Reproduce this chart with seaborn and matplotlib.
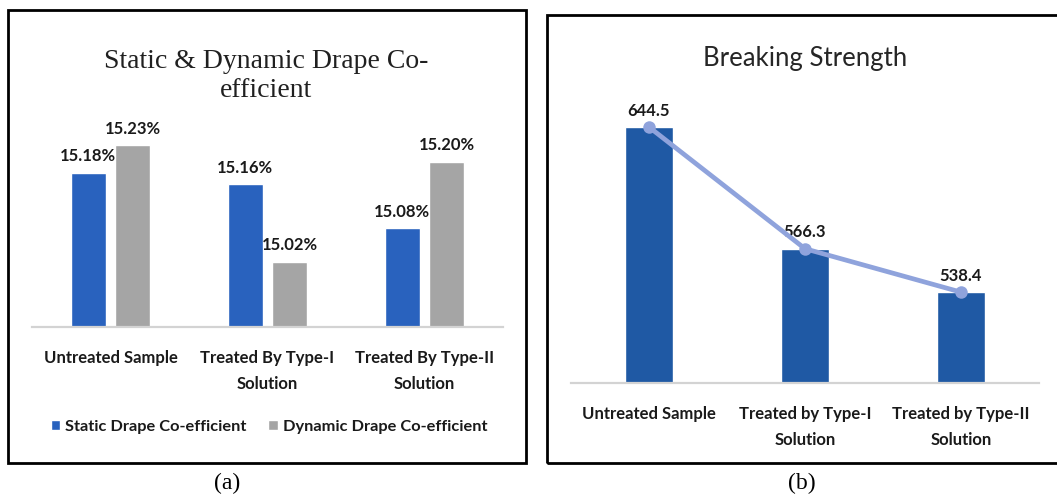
import numpy as np
import pandas as pd
import matplotlib
matplotlib.use("Agg")
import matplotlib.pyplot as plt
from matplotlib.patches import Rectangle
import seaborn as sns

# ---- data -------------------------------------------------------------
categories_a = ["Untreated Sample", "Treated By Type-I\nSolution", "Treated By Type-II\nSolution"]
series_a = ["Static Drape Co-efficient", "Dynamic Drape Co-efficient"]
static_drape = [15.18, 15.16, 15.08]
dynamic_drape = [15.23, 15.02, 15.20]

categories_b = ["Untreated Sample", "Treated by Type-I\nSolution", "Treated by Type-II\nSolution"]
breaking_strength = [644.5, 566.3, 538.4]

title_a = ["Static & Dynamic Drape Co-", "efficient"]
title_b = "Breaking Strength"

# ---- style ------------------------------------------------------------
sns.set_theme(style="white")
SANS = ["Lato", "DejaVu Sans"]
SERIF = ["Liberation Serif", "DejaVu Serif"]
plt.rcParams["font.family"] = SANS

BLUE_A = "#2962BE"
GRAY_A = "#A5A5A5"
BLUE_B = "#1F59A4"
LINE_B = "#8FA3DC"
TEXT = "#1a1a1a"
LABEL_SIZE = 12

W, H = 1057, 500
fig = plt.figure(figsize=(W / 100, H / 100), dpi=100)


def px_rect(left, top, right, bottom):
    """Axes rectangle from pixel edges (origin at top-left)."""
    return [left / W, 1 - bottom / H, (right - left) / W, (bottom - top) / H]


def style_axes(ax, fontsize):
    for side in ("left", "top", "right"):
        ax.spines[side].set_visible(False)
    ax.spines["bottom"].set_color("#D3D3D3")
    ax.spines["bottom"].set_linewidth(1.6)
    ax.set_yticks([])
    ax.set_xlabel("")
    ax.set_ylabel("")
    ax.tick_params(axis="x", length=0, pad=16.5, labelsize=fontsize, labelcolor=TEXT)
    for lab in ax.get_xticklabels():
        lab.set_fontweight("bold")
        lab.set_linespacing(1.75)


# ---- panel (a): grouped bars -------------------------------------------
df_a = pd.DataFrame({
    "category": categories_a * 2,
    "series": [series_a[0]] * 3 + [series_a[1]] * 3,
    "value": static_drape + dynamic_drape,
})

ax_a = fig.add_axes(px_rect(32, 110, 503, 327))
sns.barplot(data=df_a, x="category", y="value", hue="series",
            palette=[BLUE_A, GRAY_A], saturation=1, width=0.57, gap=0.22,
            ax=ax_a)
ax_a.set_ylim(14.903, 14.903 + 217 / 557)
ax_a.set_xlim(-0.5, 2.5)
for cont in ax_a.containers:
    ax_a.bar_label(cont, fmt="%.2f%%", padding=6, fontsize=LABEL_SIZE,
                   fontweight="bold", color=TEXT)
style_axes(ax_a, LABEL_SIZE)

handles, labels = ax_a.get_legend_handles_labels()
ax_a.legend(handles, labels, loc="center", ncol=2, frameon=False,
            bbox_to_anchor=(269 / W, 1 - 427 / H), bbox_transform=fig.transFigure,
            prop={"family": SANS, "weight": "bold", "size": 11.8},
            handlelength=0.6, handleheight=0.6, handletextpad=0.3,
            columnspacing=1.3, labelcolor=TEXT)

fig.text(266 / W, 1 - 68 / H, title_a[0], ha="center", va="baseline",
         family=SERIF, fontsize=20, color="#202020")
fig.text(266 / W, 1 - 97 / H, title_a[1], ha="center", va="baseline",
         family=SERIF, fontsize=20, color="#202020")

# ---- panel (b): bars with trend line -----------------------------------
ax_b = fig.add_axes(px_rect(571, 100, 1039, 383))
sns.barplot(x=categories_b, y=breaking_strength, color=BLUE_B, saturation=1,
            width=0.314, ax=ax_b)
ax_b.bar_label(ax_b.containers[0], fmt="%.1f", padding=6, fontsize=LABEL_SIZE,
               fontweight="bold", color=TEXT)
sns.lineplot(x=np.arange(len(categories_b)), y=breaking_strength, ax=ax_b,
             color=LINE_B, linewidth=3.4, marker="o", markersize=9,
             markeredgewidth=0, zorder=5)
ax_b.set_ylim(480, 480 + 283 / 1.556)
ax_b.set_xlim(-0.5, 2.5)
style_axes(ax_b, LABEL_SIZE)

fig.text(805 / W, 1 - 66 / H, title_b, ha="center", va="baseline",
         fontsize=18.5, color="#262626")

# ---- frames and captions -----------------------------------------------
for (x0, y0, x1, y1) in [(8, 10, 526, 463), (547, 15, 1062, 463)]:
    fig.add_artist(Rectangle((x0 / W, 1 - y1 / H), (x1 - x0) / W, (y1 - y0) / H,
                             transform=fig.transFigure, fill=False,
                             edgecolor="black", linewidth=2.0, clip_on=False))

fig.text(227 / W, 1 - 483 / H, "(a)", ha="center", va="center",
         family=SERIF, fontsize=17, color="black")
fig.text(802 / W, 1 - 483 / H, "(b)", ha="center", va="center",
         family=SERIF, fontsize=17, color="black")

fig.savefig("out.png", dpi=100, facecolor="white")
